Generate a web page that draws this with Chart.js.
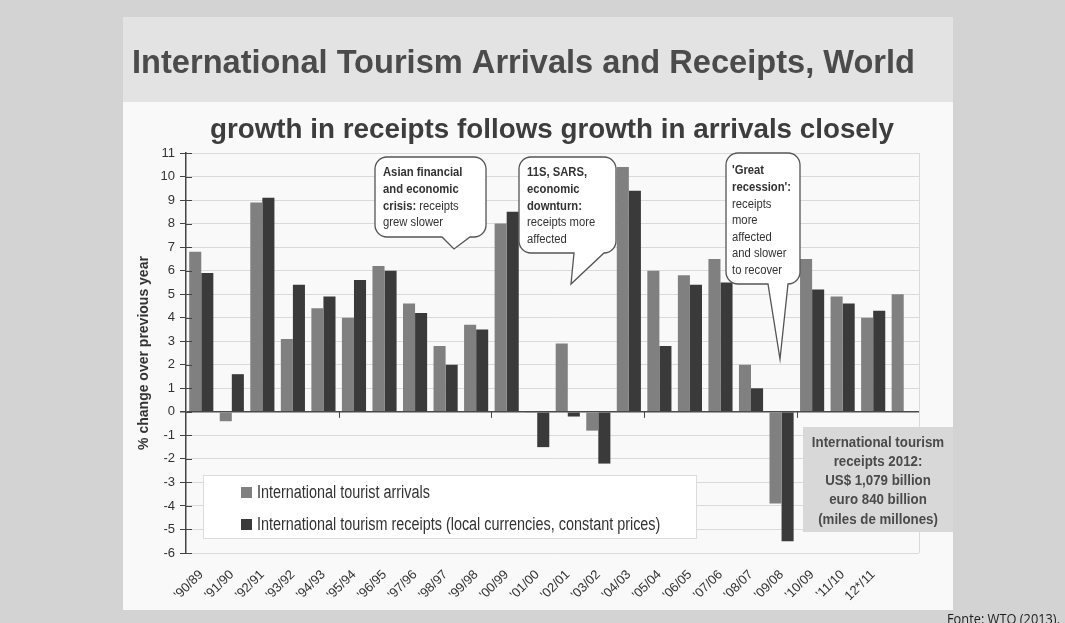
<!DOCTYPE html>
<html>
<head>
<meta charset="utf-8">
<title>International Tourism Arrivals and Receipts, World</title>
<script src="https://cdn.jsdelivr.net/npm/chart.js@4.4.1/dist/chart.umd.min.js"></script>
<style>
  html, body { margin: 0; padding: 0; background: #d3d3d3; }
  #wrap { position: relative; width: 1065px; height: 623px; }
</style>
</head>
<body>
<div id="wrap"><canvas id="myChart"></canvas></div>
<script>
// year-on-year growth, % change over previous year
const periods = ["'90/89", "'91/90", "'92/91", "'93/92", "'94/93", "'95/94", "'96/95", "'97/96",
  "'98/97", "'99/98", "'00/99", "'01/00", "'02/01", "'03/02", "'04/03", "'05/04", "'06/05",
  "'07/06", "'08/07", "'09/08", "'10/09", "'11/10", "12*/11", ""];
const arrivals = [6.8, -0.4, 8.9, 3.1, 4.4, 4.0, 6.2, 4.6, 2.8, 3.7, 8.0, -0.05, 2.9, -0.8,
  10.4, 6.0, 5.8, 6.5, 2.0, -3.9, 6.5, 4.9, 4.0, 5.0];
const receipts = [5.9, 1.6, 9.1, 5.4, 4.9, 5.6, 6.0, 4.2, 2.0, 3.5, 8.5, -1.5, -0.2, -2.2,
  9.4, 2.8, 5.4, 5.5, 1.0, -5.5, 5.2, 4.6, 4.3, null];
const yMin = -6, yMax = 11, yStep = 1;

const title = "International Tourism Arrivals and Receipts, World";
const subtitle = "growth in receipts follows growth in arrivals closely";
const source = "Fonte: WTO (2013).";
const infoLines = ["International tourism", "receipts 2012:", "US$ 1,079 billion",
  "euro 840 billion", "(miles de millones)"];

// speech bubbles: [text, bold] pieces per line
const notes = [
  { box: [375, 157, 111, 80], tail: [442, 470], tip: [454, 249], x: 383, y: 173,
    lines: [[["Asian financial", true]], [["and economic", true]],
            [["crisis:", true], [" receipts", false]], [["grew slower", false]]] },
  { box: [519, 157, 97, 96], tail: [574, 604], tip: [571, 284], x: 527, y: 173,
    lines: [[["11S, SARS,", true]], [["economic", true]], [["downturn:", true]],
            [["receipts more", false]], [["affected", false]]] },
  { box: [726, 153, 74, 131], tail: [768, 788], tip: [780, 359], x: 732, y: 171,
    lines: [[["'Great", true]], [["recession':", true]], [["receipts", false]], [["more", false]],
            [["affected", false]], [["and slower", false]], [["to recover", false]]] }
];

const FONT = 'Arial, "Liberation Sans", sans-serif';
Chart.defaults.font.family = FONT;

function squeezed(ctx, text, x, y, sx) {
  ctx.save();
  ctx.translate(x, y);
  ctx.scale(sx, 1);
  ctx.fillText(text, 0, 0);
  ctx.restore();
}

function bubble(ctx, n) {
  const [x, y, w, h] = n.box, r = 12;
  ctx.beginPath();
  ctx.moveTo(x + r, y);
  ctx.arcTo(x + w, y, x + w, y + h, r);
  ctx.arcTo(x + w, y + h, x, y + h, r);
  ctx.lineTo(n.tail[1], y + h);
  ctx.lineTo(n.tip[0], n.tip[1]);
  ctx.lineTo(n.tail[0], y + h);
  ctx.arcTo(x, y + h, x, y, r);
  ctx.arcTo(x, y, x + w, y, r);
  ctx.closePath();
  ctx.fillStyle = '#fff';
  ctx.fill();
  ctx.lineWidth = 1.3;
  ctx.strokeStyle = '#555';
  ctx.stroke();

  ctx.fillStyle = '#333';
  ctx.textBaseline = 'middle';
  ctx.textAlign = 'left';
  const sx = 0.9;
  n.lines.forEach((line, i) => {
    let cx = n.x;
    line.forEach(([txt, bold]) => {
      ctx.font = (bold ? 'bold ' : '') + '12.5px ' + FONT;
      squeezed(ctx, txt, cx, n.y + i * 16.6, sx);
      cx += ctx.measureText(txt).width * sx;
    });
  });
}

const decor = {
  id: 'decor',
  beforeDraw(chart) {
    const ctx = chart.ctx;
    ctx.save();
    ctx.fillStyle = '#d3d3d3';
    ctx.fillRect(0, 0, chart.width, chart.height);
    ctx.fillStyle = '#e3e3e3';
    ctx.fillRect(123, 17, 830, 85);
    ctx.fillStyle = '#f9f9f9';
    ctx.fillRect(123, 102, 830, 508);

    ctx.textAlign = 'left';
    ctx.textBaseline = 'alphabetic';
    ctx.fillStyle = '#4b4b4b';
    ctx.font = 'bold 33px ' + FONT;
    ctx.fillText(title, 132, 73, 783);
    ctx.fillStyle = '#3d3d3d';
    ctx.font = 'bold 28px ' + FONT;
    ctx.fillText(subtitle, 210, 138, 684);

    ctx.fillStyle = '#1e1e1e';
    ctx.font = '14px "Open Sans", ' + FONT;
    ctx.fillText(source, 947, 624, 113);
    ctx.restore();
  },
  afterDraw(chart) {
    const ctx = chart.ctx;
    const area = chart.chartArea;
    const xs = chart.scales.x, ys = chart.scales.y;
    ctx.save();

    // right edge of the plot
    ctx.strokeStyle = '#dadada';
    ctx.lineWidth = 1;
    ctx.beginPath();
    ctx.moveTo(Math.round(area.right) + 0.5, area.top);
    ctx.lineTo(Math.round(area.right) + 0.5, area.bottom);
    ctx.stroke();

    // value axis ticks cross the axis line
    ctx.strokeStyle = '#444';
    for (let v = yMin; v <= yMax; v += yStep) {
      const py = Math.round(ys.getPixelForValue(v)) + 0.5;
      ctx.beginPath();
      ctx.moveTo(area.left, py);
      ctx.lineTo(area.left + 6, py);
      ctx.stroke();
    }

    // category axis tick marks every 5 periods, on the zero line
    const zero = ys.getPixelForValue(0);
    for (let i = 5; i < periods.length; i += 5) {
      const px = Math.round((xs.getPixelForValue(i - 1) + xs.getPixelForValue(i)) / 2) + 0.5;
      ctx.beginPath();
      ctx.moveTo(px, zero);
      ctx.lineTo(px, zero + 6);
      ctx.stroke();
    }

    // legend box
    ctx.fillStyle = '#fff';
    ctx.fillRect(203, 475, 493, 63);
    ctx.strokeStyle = '#dcdcdc';
    ctx.strokeRect(203.5, 475.5, 493, 63);
    ctx.textBaseline = 'middle';
    ctx.textAlign = 'left';
    ctx.font = '18px ' + FONT;
    chart.data.datasets.forEach((ds, i) => {
      const cy = 492 + i * 32;
      ctx.fillStyle = ds.backgroundColor;
      ctx.fillRect(241, cy - 5, 11, 11);
      ctx.fillStyle = '#333';
      squeezed(ctx, ds.label, 257, cy + 1, 0.8);
    });

    // figure box
    ctx.fillStyle = '#d8d8d8';
    ctx.fillRect(803, 427, 150, 105);
    ctx.fillStyle = '#4a4a4a';
    ctx.textAlign = 'center';
    ctx.font = 'bold 14px ' + FONT;
    infoLines.forEach((t, i) => squeezed(ctx, t, 878, 443 + i * 19.2, 0.95));

    notes.forEach(n => bubble(ctx, n));
    ctx.restore();
  }
};

new Chart(document.getElementById('myChart'), {
  type: 'bar',
  data: {
    labels: periods,
    datasets: [
      { label: 'International tourist arrivals', data: arrivals, backgroundColor: '#808080',
        categoryPercentage: 0.79, barPercentage: 1 },
      { label: 'International tourism receipts (local currencies, constant prices)', data: receipts,
        backgroundColor: '#3a3a3a', categoryPercentage: 0.79, barPercentage: 1 }
    ]
  },
  options: {
    responsive: true,
    maintainAspectRatio: false,
    animation: false,
    layout: { padding: { top: 153, right: 146, bottom: 0, left: 0 } },
    scales: {
      x: {
        grid: { display: false, drawTicks: false },
        border: { display: false },
        ticks: { autoSkip: false, minRotation: 45, maxRotation: 45, padding: 14,
                 color: '#333', font: { size: 13 } },
        afterFit(scale) { scale.height = 70; }
      },
      y: {
        min: yMin,
        max: yMax,
        ticks: { stepSize: yStep, color: '#333', padding: 5, font: { size: 13 } },
        grid: {
          color: c => (c.tick && c.tick.value === 0 ? '#4a4a4a' : '#dadada'),
          lineWidth: c => (c.tick && c.tick.value === 0 ? 1.5 : 1),
          tickColor: '#444',
          tickLength: 6
        },
        border: { display: true, color: '#444', width: 1.5 },
        title: { display: true, text: '% change over previous year', color: '#333',
                 font: { size: 14, weight: 'bold' }, padding: { top: 136, bottom: 0 } },
        afterFit(scale) { scale.width = 186; }
      }
    },
    plugins: {
      legend: { display: false },
      title: { display: false },
      tooltip: { enabled: false }
    }
  },
  plugins: [decor]
});
</script>
</body>
</html>
